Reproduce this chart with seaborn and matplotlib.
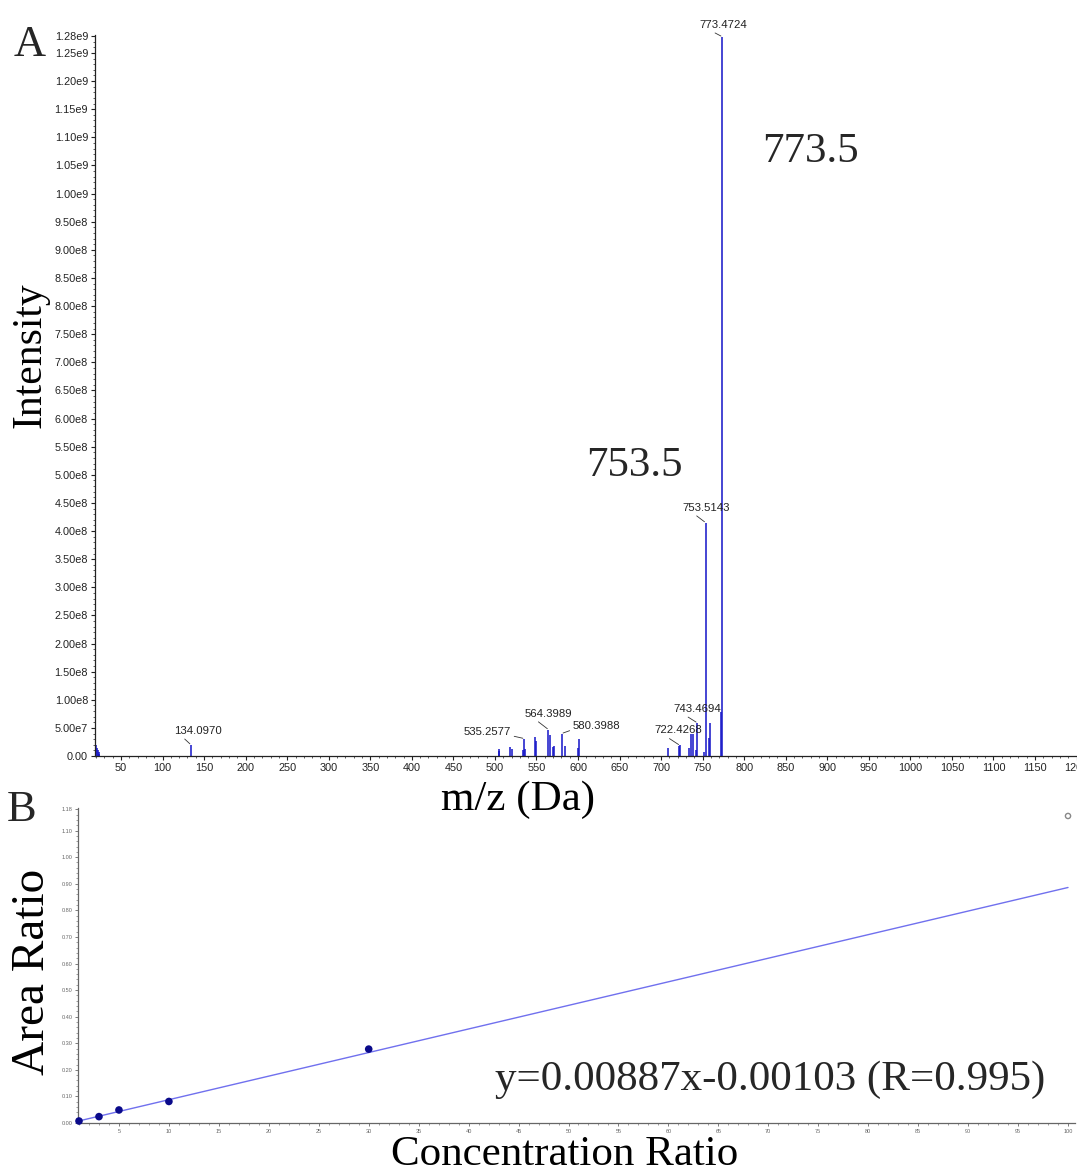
import numpy as np
import pandas as pd
import matplotlib
matplotlib.use("Agg")
import matplotlib.pyplot as plt
import seaborn as sns
from matplotlib.ticker import MultipleLocator, FixedLocator, FormatStrFormatter

# ---------------- data ----------------
# Panel A: stick mass spectrum
peak_mz = [19.0, 20.0, 21.0, 22.0, 23.0, 24.0, 134.097,
           504.5, 505.5, 518.5, 520.0, 533.5, 535.2577, 536.5,
           548.5, 550.0, 564.3989, 566.4, 569.5, 570.5, 580.3988, 584.5,
           600.0, 601.0, 708.0, 721.4, 722.4268, 733.0, 736.5, 738.0,
           741.5, 743.4694, 751.5, 753.5143, 757.5, 759.0, 772.5, 773.4724]
peak_int = [2.2e7, 1.9e7, 1.5e7, 1.1e7, 0.7e7, 0.4e7, 2.0e7,
            1.3e7, 0.9e7, 1.6e7, 1.3e7, 1.0e7, 3.1e7, 1.3e7,
            3.4e7, 2.7e7, 4.7e7, 3.8e7, 1.6e7, 1.8e7, 4.0e7, 1.7e7,
            1.4e7, 3.1e7, 1.4e7, 1.8e7, 1.9e7, 1.4e7, 3.9e7, 3.9e7,
            1.1e7, 5.9e7, 0.8e7, 4.15e8, 3.2e7, 5.9e7, 7.8e7, 1.279e9]

label_mz = [134.097, 535.2577, 564.3989, 580.3988, 722.4268, 743.4694, 753.5143, 773.4724]
label_text = ["134.0970", "535.2577", "564.3989", "580.3988", "722.4268", "743.4694", "753.5143", "773.4724"]

ytick_vals = [0.0, 5.0e7, 1.0e8, 1.5e8, 2.0e8, 2.5e8, 3.0e8, 3.5e8, 4.0e8, 4.5e8, 5.0e8,
              5.5e8, 6.0e8, 6.5e8, 7.0e8, 7.5e8, 8.0e8, 8.5e8, 9.0e8, 9.5e8, 1.0e9,
              1.05e9, 1.10e9, 1.15e9, 1.20e9, 1.25e9, 1.28e9]
ytick_labels = ["0.00", "5.00e7", "1.00e8", "1.50e8", "2.00e8", "2.50e8", "3.00e8", "3.50e8",
                "4.00e8", "4.50e8", "5.00e8", "5.50e8", "6.00e8", "6.50e8", "7.00e8", "7.50e8",
                "8.00e8", "8.50e8", "9.00e8", "9.50e8", "1.00e9", "1.05e9", "1.10e9", "1.15e9",
                "1.20e9", "1.25e9", "1.28e9"]

big_labels = ["773.5", "753.5"]

# Panel B: calibration
conc = [1, 3, 5, 10, 30]
area = [0.0075, 0.024, 0.049, 0.081, 0.278]
excluded_conc = [100]
excluded_area = [1.155]
slope = 0.00887
intercept = -0.00103
fit_range = [1, 100]
equation = "y=0.00887x-0.00103 (R=0.995)"

# ---------------- style ----------------
sns.set_theme(style="white")
plt.rcParams["font.family"] = ["Liberation Sans", "DejaVu Sans"]
SERIF = ["Liberation Serif", "DejaVu Serif"]

W, H = 1077, 1176
fig = plt.figure(figsize=(W / 100, H / 100), dpi=100)

def fx(px):
    return px / W

def fy(py):
    return 1 - py / H

ax1 = fig.add_axes([fx(95), fy(756), 982 / W, 721 / H])
ax2 = fig.add_axes([fx(78), fy(1123), 997 / W, 315 / H])
ax2.set_facecolor("none")
ax1.set_zorder(2)
ax1.set_facecolor("none")

# ---------------- panel A ----------------
spec = pd.DataFrame({"mz": peak_mz, "intensity": peak_int})
ax1.vlines(spec["mz"], 0, spec["intensity"], color="#1414c8", lw=1.1)
ax1.set_xlim(18.7, 1200.5)
ax1.set_ylim(0, 1.282e9)

for s in ["top", "right"]:
    ax1.spines[s].set_visible(False)
for s in ["left", "bottom"]:
    ax1.spines[s].set_color("#222222")
    ax1.spines[s].set_linewidth(0.9)

ax1.xaxis.set_major_locator(MultipleLocator(50))
ax1.xaxis.set_minor_locator(MultipleLocator(10))
ax1.yaxis.set_major_locator(FixedLocator(ytick_vals))
ax1.set_yticklabels(ytick_labels)
ax1.yaxis.set_minor_locator(MultipleLocator(1e7))
ax1.tick_params(axis="both", which="major", bottom=True, left=True, direction="out",
                length=3, width=0.8, labelsize=7.8, pad=2, colors="#222222")
ax1.tick_params(axis="both", which="minor", bottom=True, left=True, direction="out",
                length=1.5, width=0.6, colors="#444444")

offsets = [(7, 14), (-37, 7), (0, 16), (35, 8), (-1, 15), (0, 14), (1, 15), (1, 12)]
relpos = [(0.15, 0), (1, 0.1), (0.2, 0), (0, 0.1), (0.2, 0), (0.2, 0), (0.2, 0), (0.2, 0)]
for m, t, off, rp in zip(label_mz, label_text, offsets, relpos):
    h = spec.loc[(spec["mz"] - m).abs().idxmin(), "intensity"]
    ax1.annotate(t, xy=(m, h), xytext=(off[0] * 0.72, off[1] * 0.72),
                 textcoords="offset points", ha="center", va="center",
                 fontsize=8.2, color="#222222",
                 arrowprops=dict(arrowstyle="-", color="#333333", lw=0.6,
                                 shrinkA=0, shrinkB=1, relpos=rp))

ax1.set_xlabel("m/z (Da)", family=SERIF, fontsize=31, color="black")
ax1.xaxis.set_label_coords(0.431, -0.061)
ax1.xaxis.label.set_va("center")
ax1.set_ylabel("Intensity", family=SERIF, fontsize=30, color="black")
ax1.yaxis.set_label_coords(-0.066, 0.556)
ax1.yaxis.label.set_va("center")

fig.text(fx(30), fy(45), "A", family=SERIF, fontsize=32, ha="center", va="center")
fig.text(fx(810), fy(152), big_labels[0], family=SERIF, fontsize=31, ha="center", va="center")
fig.text(fx(634), fy(466), big_labels[1], family=SERIF, fontsize=31, ha="center", va="center")

# ---------------- panel B ----------------
fit = pd.DataFrame({"x": fit_range})
fit["y"] = slope * fit["x"] + intercept
sns.lineplot(data=fit, x="x", y="y", ax=ax2, color="#7070ee", lw=1.0)
pts = pd.DataFrame({"conc": conc, "area": area})
sns.scatterplot(data=pts, x="conc", y="area", ax=ax2, color="#0a0a8a", s=30,
                edgecolor="none", clip_on=False, zorder=3)
ax2.scatter(excluded_conc, excluded_area, s=14, facecolor="none", edgecolor="#888888",
            linewidth=1.0, clip_on=False, zorder=3)

ax2.set_xlim(0.9, 100.7)
ax2.set_ylim(0, 1.185)
for s in ["top", "right"]:
    ax2.spines[s].set_visible(False)
for s in ["left", "bottom"]:
    ax2.spines[s].set_color("#666666")
    ax2.spines[s].set_linewidth(0.9)

ax2.xaxis.set_major_locator(FixedLocator(list(range(5, 101, 5))))
ax2.xaxis.set_minor_locator(MultipleLocator(1))
ax2.yaxis.set_major_locator(FixedLocator([0.0, 0.1, 0.2, 0.3, 0.4, 0.5, 0.6, 0.7, 0.8, 0.9, 1.0, 1.1, 1.18]))
ax2.yaxis.set_major_formatter(FormatStrFormatter("%.2f"))
ax2.xaxis.set_major_formatter(FormatStrFormatter("%d"))
ax2.yaxis.set_minor_locator(MultipleLocator(0.02))
ax2.tick_params(axis="both", which="major", bottom=True, left=True, direction="out",
                length=2, width=0.6, labelsize=4, pad=2, colors="#666666")
ax2.tick_params(axis="both", which="minor", bottom=True, left=True, direction="out",
                length=1.2, width=0.5, colors="#777777")

ax2.set_xlabel("Concentration Ratio", family=SERIF, fontsize=31, color="black")
ax2.xaxis.set_label_coords(0.488, -0.102)
ax2.xaxis.label.set_va("center")
ax2.set_ylabel("Area Ratio", family=SERIF, fontsize=34, color="black")
ax2.yaxis.set_label_coords(-0.045, 0.479)
ax2.yaxis.label.set_va("center")

fig.text(fx(22), fy(810), "B", family=SERIF, fontsize=32, ha="center", va="center")
fig.text(fx(495), fy(1080), equation, family=SERIF, fontsize=31, ha="left", va="center")

fig.savefig("out.png", dpi=100)
